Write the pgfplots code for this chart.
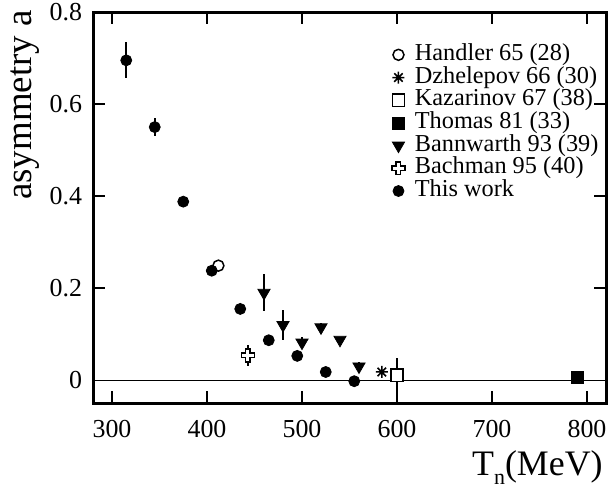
\documentclass[border=0pt]{standalone}
\usepackage{pgfplots}
\pgfplotsset{compat=1.18}
\usepackage{fontspec}
\setmainfont{Liberation Serif}

% outlined plus (Bachman 95)
\pgfdeclareplotmark{ocross}{%
  \pgfpathmoveto{\pgfqpoint{-0.35\pgfplotmarksize}{\pgfplotmarksize}}%
  \pgfpathlineto{\pgfqpoint{0.35\pgfplotmarksize}{\pgfplotmarksize}}%
  \pgfpathlineto{\pgfqpoint{0.35\pgfplotmarksize}{0.35\pgfplotmarksize}}%
  \pgfpathlineto{\pgfqpoint{\pgfplotmarksize}{0.35\pgfplotmarksize}}%
  \pgfpathlineto{\pgfqpoint{\pgfplotmarksize}{-0.35\pgfplotmarksize}}%
  \pgfpathlineto{\pgfqpoint{0.35\pgfplotmarksize}{-0.35\pgfplotmarksize}}%
  \pgfpathlineto{\pgfqpoint{0.35\pgfplotmarksize}{-\pgfplotmarksize}}%
  \pgfpathlineto{\pgfqpoint{-0.35\pgfplotmarksize}{-\pgfplotmarksize}}%
  \pgfpathlineto{\pgfqpoint{-0.35\pgfplotmarksize}{-0.35\pgfplotmarksize}}%
  \pgfpathlineto{\pgfqpoint{-\pgfplotmarksize}{-0.35\pgfplotmarksize}}%
  \pgfpathlineto{\pgfqpoint{-\pgfplotmarksize}{0.35\pgfplotmarksize}}%
  \pgfpathlineto{\pgfqpoint{-0.35\pgfplotmarksize}{0.35\pgfplotmarksize}}%
  \pgfpathclose
  \pgfusepathqfillstroke}

% eight-armed star (Dzhelepov 66)
\pgfdeclareplotmark{star8}{%
  \pgfpathmoveto{\pgfqpoint{0pt}{\pgfplotmarksize}}%
  \pgfpathlineto{\pgfqpoint{0pt}{-\pgfplotmarksize}}%
  \pgfpathmoveto{\pgfqpoint{\pgfplotmarksize}{0pt}}%
  \pgfpathlineto{\pgfqpoint{-\pgfplotmarksize}{0pt}}%
  \pgfpathmoveto{\pgfqpoint{0.707\pgfplotmarksize}{0.707\pgfplotmarksize}}%
  \pgfpathlineto{\pgfqpoint{-0.707\pgfplotmarksize}{-0.707\pgfplotmarksize}}%
  \pgfpathmoveto{\pgfqpoint{-0.707\pgfplotmarksize}{0.707\pgfplotmarksize}}%
  \pgfpathlineto{\pgfqpoint{0.707\pgfplotmarksize}{-0.707\pgfplotmarksize}}%
  \pgfusepathqstroke}

\begin{document}
\begin{tikzpicture}
\begin{axis}[
  scale only axis,
  width=256.5bp, height=195.65bp,
  xmin=280, xmax=820, ymin=-0.05, ymax=0.8,
  xtick={300,400,...,800}, ytick={0,0.2,...,0.8},
  tick align=inside,
  major tick length=6bp,
  every tick/.style={black, line width=0.75bp},
  axis line style={line width=1.5bp},
  tick label style={font=\fontsize{13}{15}\selectfont},
  /pgf/number format/assume math mode=true,
  y tick label style={/pgf/number format/fixed, xshift=-2bp},
  x tick label style={yshift=-5bp},
  legend style={draw=none, fill=none, inner sep=0pt, outer sep=0pt,
    at={(rel axis cs:0.583,0.92)}, anchor=north west,
    font=\fontsize{12.2}{14}\selectfont,
    nodes={inner sep=0.5bp, text height=8bp, text depth=2.5bp},
    row sep=-0.15bp,
    /tikz/every odd column/.append style={column sep=4.5bp}},
  legend cell align=left,
  legend image code/.code={\draw[mark repeat=2,mark phase=2]
    plot coordinates {(0bp,0bp) (6bp,0bp) (12bp,0bp)};},
  error bars/error bar style={line width=1bp, black},
  error bars/error mark=none,
]
\coordinate (ll) at (rel axis cs:0,0);
\coordinate (ul) at (rel axis cs:0,1);
\coordinate (lr) at (rel axis cs:1,0);

\addplot[black, line width=0.6bp, forget plot] coordinates {(280,0) (820,0)};

\addplot[only marks, mark=*, mark size=2.75bp, mark options={fill=white, line width=0.75bp}, black,
  error bars/.cd, y dir=both, y explicit]
  table[x=x, y=y, y error=e] {
x y e
412 0.249 0.012
};
\addlegendentry{Handler 65 (28)}

\addplot[only marks, mark=star8, mark size=3bp, mark options={line width=0.75bp}, black]
  table[x=x, y=y] {
x y
584 0.018
};
\addlegendentry{Dzhelepov 66 (30)}

\addplot[only marks, mark=square*, mark size=3.1bp, mark options={fill=white, line width=0.75bp}, black,
  error bars/.cd, y dir=both, y explicit]
  table[x=x, y=y, y error=e] {
x y e
600 0.011 0.038
};
\addlegendentry{Kazarinov 67 (38)}

\addplot[only marks, mark=square*, mark size=3bp, mark options={fill=black}, black]
  table[x=x, y=y] {
x y
790 0.007
};
\addlegendentry{Thomas 81 (33)}

\addplot[only marks, mark=triangle*, mark size=3.5bp, mark options={rotate=180, fill=black}, black,
  error bars/.cd, y dir=both, y explicit]
  table[x=x, y=y, y error=e] {
x y e
460 0.190 0.040
480 0.120 0.032
500 0.082 0.012
520 0.115 0.010
540 0.088 0
560 0.030 0.010
};
\addlegendentry{Bannwarth 93 (39)}

\addplot[only marks, mark=ocross, mark size=3.2bp, mark options={fill=white, line width=0.75bp}, black,
  error bars/.cd, y dir=both, y explicit]
  table[x=x, y=y, y error=e] {
x y e
443 0.054 0.022
};
\addlegendentry{Bachman 95 (40)}

\addplot[only marks, mark=*, mark size=2.75bp, mark options={fill=black}, black,
  error bars/.cd, y dir=both, y explicit]
  table[x=x, y=y, y error=e] {
x y e
315 0.695 0.039
345 0.550 0.019
375 0.388 0
405 0.238 0
435 0.155 0
465 0.087 0
495 0.053 0
525 0.018 0
555 -0.002 0
};
\addlegendentry{This work}
\end{axis}

\node[rotate=90, anchor=north east, inner sep=0pt, font=\fontsize{18.5}{20}\selectfont]
  at ([xshift=-41.5bp, yshift=1bp]ul) {asymmetry a};
\node[anchor=base east, inner sep=0pt, font=\fontsize{18}{20}\selectfont]
  at ([xshift=-1.5bp, yshift=-35.9bp]lr)
  {T\raisebox{-4.5bp}{\fontsize{11}{12}\selectfont n}(MeV)};

\pgfresetboundingbox
\path[use as bounding box] ([shift={(-46.5bp,-41.85bp)}]ll) rectangle +(304.5bp,243.5bp);
\end{tikzpicture}
\end{document}
